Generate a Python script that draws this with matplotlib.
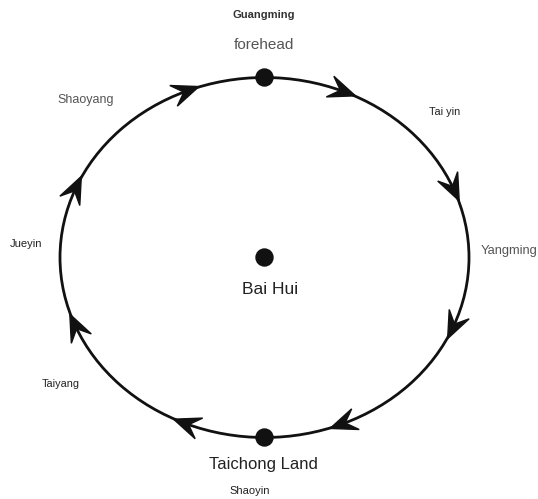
import numpy as np
import matplotlib
matplotlib.use("Agg")
import matplotlib.pyplot as plt
from matplotlib.patches import Ellipse, Polygon, Circle

# ---- data ----
point_names = ["forehead", "Taichong Land", "Bai Hui"]
channel_labels = ["Guangming", "Tai yin", "Yangming", "Shaoyin", "Taiyang", "Jueyin", "Shaoyang"]
arrow_angles_deg = [67.5, 22.5, -22.5, -67.5, -112.5, -157.5, 157.5, 112.5]  # clockwise flow

# ---- layout ----
W, H = 538, 499
cx, cy, a, b = 264.5, 257.5, 204.5, 180.0

fig = plt.figure(figsize=(W / 100, H / 100), dpi=100)
ax = fig.add_axes([0, 0, 1, 1])
ax.set_xlim(0, W)
ax.set_ylim(H, 0)
ax.axis("off")

ink = "#111111"
ax.add_patch(Ellipse((cx, cy), 2 * a, 2 * b, fill=False, ec=ink, lw=2.0))

# dots
for (x, y) in [(cx, cy - b), (cx, cy + b), (cx, cy)]:
    ax.add_patch(Circle((x, y), 8.5, color=ink, zorder=5))

# arrowheads (clockwise on screen)
L, hw, notch = 27, 11, 11
for ang in arrow_angles_deg:
    t = np.deg2rad(ang)
    px, py = cx + a * np.cos(t), cy - b * np.sin(t)
    tx, ty = a * np.sin(t), b * np.cos(t)
    n = np.hypot(tx, ty)
    tx, ty = tx / n, ty / n
    nx, ny = -ty, tx
    tip = (px + 0.5 * L * tx, py + 0.5 * L * ty)
    back = (px - 0.5 * L * tx, py - 0.5 * L * ty)
    b1 = (back[0] + hw * nx, back[1] + hw * ny)
    b2 = (back[0] - hw * nx, back[1] - hw * ny)
    nt = (back[0] + notch * tx, back[1] + notch * ty)
    ax.add_patch(Polygon([tip, b1, nt, b2], closed=True, color=ink, zorder=6))

font = "Liberation Sans"
dark = "#222222"
gray = "#555555"
texts = [
    (channel_labels[0], 264, 15, 8, "bold", "#333333"),
    (point_names[0], 264, 45, 11, "normal", gray),
    (channel_labels[6], 86, 100, 9, "normal", gray),
    (channel_labels[1], 445, 112, 7.8, "normal", dark),
    (channel_labels[2], 509, 251, 9.3, "normal", gray),
    (channel_labels[5], 26, 244, 8, "normal", dark),
    (channel_labels[4], 61, 384, 7.8, "normal", dark),
    (point_names[2], 270, 290, 12.5, "normal", dark),
    (point_names[1], 263, 465, 12, "normal", dark),
    (channel_labels[3], 250, 491, 8, "normal", dark),
]
for s, x, y, fs, fw, c in texts:
    ax.text(x, y, s, ha="center", va="center", fontsize=fs, fontweight=fw,
            color=c, family=font)

fig.savefig("out.png", dpi=100, facecolor="white")
